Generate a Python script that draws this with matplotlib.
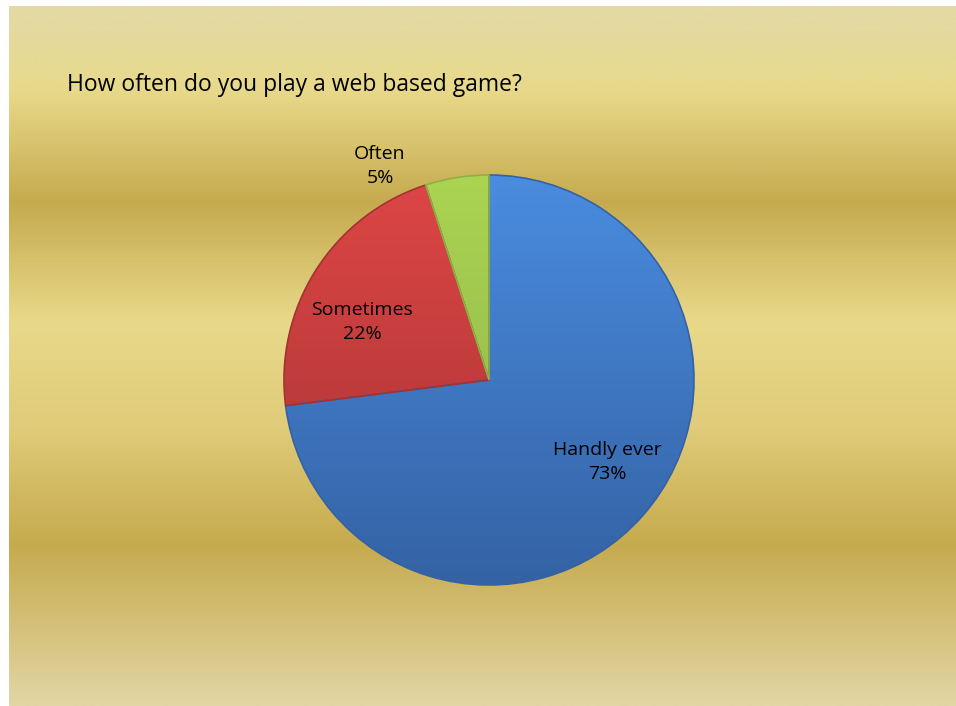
import numpy as np
import matplotlib.pyplot as plt
from matplotlib.colors import LinearSegmentedColormap

# donnees du graphique
categories = ["Handly ever", "Sometimes", "Often"]
valeurs = [73, 22, 5]
titre = "How often do you play a web based game?"

W, H = 956, 706
fig = plt.figure(figsize=(W / 100, H / 100), dpi=100)
ax = fig.add_axes([0, 0, 1, 1])
ax.set_xlim(0, W)
ax.set_ylim(0, H)
ax.set_aspect("equal")
ax.axis("off")

# fond dore en bandes horizontales (du bas vers le haut)
stops = [(0.0, "#e2d6a4"), (0.23, "#c6aa4e"), (0.40, "#e0cc7a"), (0.55, "#e8d98a"),
         (0.72, "#c6aa4e"), (0.88, "#e8d98a"), (1.0, "#e3d9a6")]
fond = LinearSegmentedColormap.from_list("fond", stops)
grad = np.linspace(0, 1, 512).reshape(-1, 1)
ax.imshow(grad, cmap=fond, origin="lower", extent=(9, W, 0, H - 6), aspect="auto", zorder=0)

# camembert
cx, cy, R = 489, H - 380, 205
wedges, _ = ax.pie(valeurs, center=(cx, cy), radius=R, startangle=90, counterclock=False)
degrades = [("#4a8cdf", "#3462a4"), ("#de4646", "#a33232"), ("#aad452", "#8fb046")]
for w, (haut, bas) in zip(wedges, degrades):
    w.set_facecolor("none")
    w.set_edgecolor(bas)
    w.set_linewidth(1.2)
    w.set_zorder(3)
    cm = LinearSegmentedColormap.from_list("c", [bas, haut])
    im = ax.imshow(grad, cmap=cm, origin="lower", extent=(cx - R, cx + R, cy - R, cy + R),
                   aspect="auto", zorder=2)
    im.set_clip_path(w)
ax.set_xlim(0, W)
ax.set_ylim(0, H)

# etiquettes
positions = [(607, 462), (362, 322), (380, 166)]
for nom, v, (x, y) in zip(categories, valeurs, positions):
    ax.text(x, H - y, f"{nom}\n{v}%", ha="center", va="center", fontsize=14,
            family="Open Sans", linespacing=1.45, zorder=5)

ax.text(67, H - 85, titre, ha="left", va="center", fontsize=16.5, family="Open Sans", zorder=5)

fig.savefig("out.png", dpi=100)
